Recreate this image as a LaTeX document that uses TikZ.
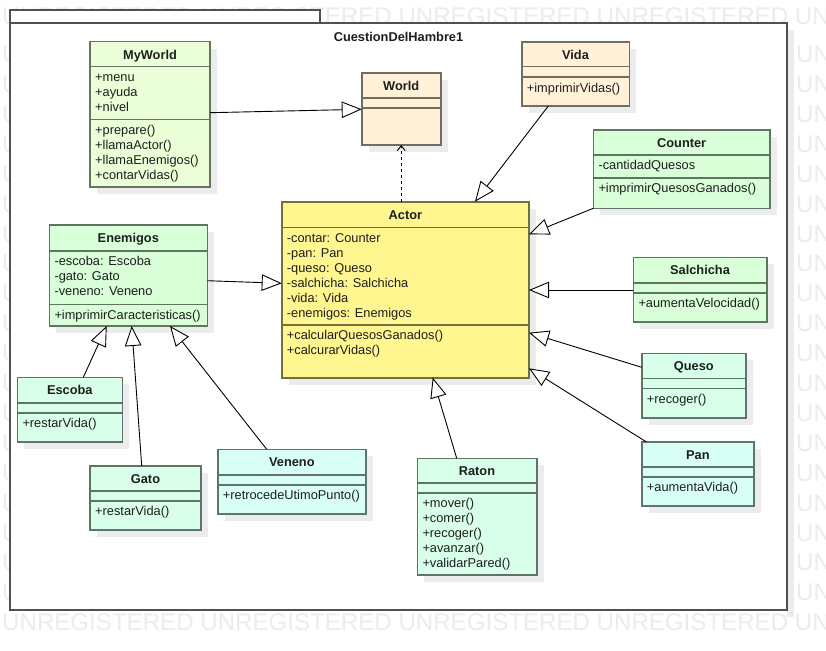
\documentclass[tikz,border=0pt]{standalone}
\usepackage{fontspec}
\setmainfont{Liberation Sans}
\usetikzlibrary{arrows.meta,calc}
\definecolor{cyel}{RGB}{255,246,143}
\definecolor{cbeige}{RGB}{255,242,216}
\definecolor{clime}{RGB}{234,255,216}
\definecolor{cgreen}{RGB}{216,255,216}
\definecolor{cmint}{RGB}{216,255,234}
\definecolor{ccyan}{RGB}{216,255,246}
\definecolor{cshadow}{RGB}{236,236,236}
\definecolor{cwater}{RGB}{236,236,236}
\definecolor{ctext}{RGB}{30,30,30}
\definecolor{cpkg}{RGB}{80,80,80}
\tikzset{
  classbox/.style={line width=1.6pt, inner sep=0pt, outer sep=0pt},
  pkgbox/.style={draw=cpkg, fill=white, line width=1.6pt, inner sep=0pt, outer sep=0pt},
  titlef/.style={font=\fontsize{12.8}{15}\selectfont\bfseries, text=ctext, inner sep=0pt},
  textf/.style={font=\fontsize{12.8}{15}\selectfont, text=ctext, inner sep=0pt},
  wm/.style={font=\fontsize{24.1}{26}\selectfont, text=cwater, inner sep=0pt},
  gen/.style={draw=black, line width=0.9pt, -{Triangle[length=20pt,width=16.5pt,fill=white,line width=0.9pt]}},
  dep/.style={draw=black, line width=0.9pt, dash pattern=on 3pt off 3pt, -{Straight Barb[length=5pt,width=8pt,line width=0.9pt]}}
}
\newcommand\umlbox[8]{%
  \fill[cshadow] ({#2+7},{#3+7}) rectangle ({#4+7},{#7+7});
  \node[classbox, fill=#8, draw=#8!45!black, minimum width={(#4-#2)*1pt}, minimum height={(#7-#3)*1pt}, anchor=north west] (#1) at (#2,#3) {};
  \draw[line width=1.6pt, draw=#8!45!black] (#2,#5) -- (#4,#5) (#2,#6) -- (#4,#6);
}
\newcommand\umltitle[2]{\node[titlef, anchor=base] (#1-title) at ($(#1.north)+(0,17.5)$) {#2};}
\newcommand\umllines[4]{\foreach \t [count=\i] in {#4} {\node[textf, anchor=base west] (#1\i) at ({#2+5},{#3+14.8+15*(\i-1)}) {\t};}}
\begin{document}
\begin{tikzpicture}[x=1pt,y=-1pt]
\useasboundingbox (0,0) rectangle (826,650);
\fill[white] (0,0) rectangle (826,650);
% package shadow
\fill[cshadow] (787,30) rectangle (794,617);
% watermark (only the parts outside the package)
\begin{scope}
\clip (0,0) rectangle (826,650);
\node[wm, anchor=base west] (wmtop) at (2,{16+8.6}) {UNREGISTERED UNREGISTERED UNREGISTERED UNREGISTERED UNREGISTERED};
\node[wm, anchor=base west] (wmbot) at (2,{54+29.9*19+8.6}) {UNREGISTERED UNREGISTERED UNREGISTERED UNREGISTERED UNREGISTERED};
\foreach \k in {0,...,18} {
  \node[wm, anchor=base west] (wmr\k) at (796,{54+29.9*\k+8.6}) {UN};
}
\end{scope}
\begin{scope}
\clip (0,0) rectangle (9,650);
\foreach \k in {0,...,18} {
  \node[wm, anchor=base west] (wml\k) at (2,{54+29.9*\k+8.6}) {U};
}
\end{scope}
% package
\node[pkgbox, minimum width=310pt, minimum height=13pt, anchor=north west] (tab) at (10,10) {};
\node[pkgbox, minimum width=777pt, minimum height=587pt, anchor=north west] (pkg) at (10,23) {};
\node[titlef, anchor=base] (pkgname) at ($(pkg.north)+(0,18.4)$) {CuestionDelHambre1};
% classes
\umlbox{myworld}{90}{41.7}{210}{66.7}{119.3}{186.7}{clime}
\umltitle{myworld}{MyWorld}
\umllines{myworld-a}{90}{66.7}{+menu,+ayuda,+nivel}
\umllines{myworld-m}{90}{119.3}{+prepare(),+llamaActor(),+llamaEnemigos(),+contarVidas()}

\umlbox{world}{361.7}{73.3}{440.7}{98.3}{108.3}{145}{cbeige}
\umltitle{world}{World}

\umlbox{vida}{521.7}{42.3}{629.3}{66.7}{77.3}{106}{cbeige}
\umltitle{vida}{Vida}
\umllines{vida-m}{521.7}{77.3}{+imprimirVidas()}

\umlbox{counter}{593.3}{130}{770}{155}{177.7}{208.3}{cgreen}
\umltitle{counter}{Counter}
\umllines{counter-a}{593.3}{155}{-cantidadQuesos}
\umllines{counter-m}{593.3}{177.7}{+imprimirQuesosGanados()}

\umlbox{enemigos}{49.3}{225}{207.3}{251}{304.3}{326}{cgreen}
\umltitle{enemigos}{Enemigos}
\umllines{enemigos-a}{49.3}{251}{-escoba: Escoba,-gato: Gato,-veneno: Veneno}
\umllines{enemigos-m}{49.3}{304.3}{+imprimirCaracteristicas()}

\umlbox{actor}{281.7}{201.7}{529}{227.3}{325}{377.7}{cyel}
\umltitle{actor}{Actor}
\umllines{actor-a}{281.7}{227.3}{-contar: Counter,-pan: Pan,-queso: Queso,-salchicha: Salchicha,-vida: Vida,-enemigos: Enemigos}
\umllines{actor-m}{281.7}{325}{+calcularQuesosGanados(),+calcurarVidas()}

\umlbox{salchicha}{633.3}{257.3}{766.7}{282.7}{292.7}{321.7}{cgreen}
\umltitle{salchicha}{Salchicha}
\umllines{salchicha-m}{633.3}{292.7}{+aumentaVelocidad()}

\umlbox{queso}{641.7}{353.3}{746}{378.3}{388.3}{417.7}{cmint}
\umltitle{queso}{Queso}
\umllines{queso-m}{641.7}{388.3}{+recoger()}

\umlbox{pan}{641.7}{441.7}{754}{466.7}{476.7}{506}{ccyan}
\umltitle{pan}{Pan}
\umllines{pan-m}{641.7}{476.7}{+aumentaVida()}

\umlbox{escoba}{17.3}{377.3}{122.3}{402.7}{412.7}{441.7}{cmint}
\umltitle{escoba}{Escoba}
\umllines{escoba-m}{17.3}{412.7}{+restarVida()}

\umlbox{gato}{90}{465.7}{201}{490.7}{501}{530}{cmint}
\umltitle{gato}{Gato}
\umllines{gato-m}{90}{501}{+restarVida()}

\umlbox{veneno}{217.7}{449.3}{366}{475}{485}{514}{ccyan}
\umltitle{veneno}{Veneno}
\umllines{veneno-m}{217.7}{485}{+retrocedeUtimoPunto()}

\umlbox{raton}{417.3}{458.3}{536.7}{482.7}{492.7}{575}{cmint}
\umltitle{raton}{Raton}
\umllines{raton-m}{417.3}{492.7}{+mover(),+comer(),+recoger(),+avanzar(),+validarPared()}

% connectors
\draw[gen] ($(myworld.north east)+(0,71)$) -- ($(world.north west)+(0,36)$);
\draw[dep] (world.south |- actor.north) -- (world.south);
\draw[gen] ($(vida.south west)+(26.6,0)$) -- ($(actor.north west)+(193.3,0)$);
\draw[gen] (counter.south west) -- ($(actor.north east)+(0,32.6)$);
\draw[gen] ($(salchicha.north west)+(0,32.7)$) -- ($(actor.north east)+(0,88.3)$);
\draw[gen] ($(queso.north west)+(0,14)$) -- ($(actor.north east)+(0,131)$);
\draw[gen] ($(pan.north west)+(4.3,0)$) -- ($(actor.north east)+(0,166.6)$);
\draw[gen] ($(raton.north west)+(39.4,0)$) -- ($(actor.south west)+(151,0)$);
\draw[gen] ($(enemigos.north east)+(0,55.7)$) -- ($(actor.north west)+(0,81.6)$);
\draw[gen] ($(escoba.north west)+(66,0)$) -- ($(enemigos.south west)+(57.4,0)$);
\draw[gen] ($(gato.north west)+(51.7,0)$) -- ($(enemigos.south west)+(82.4,0)$);
\draw[gen] ($(veneno.north west)+(49,0)$) -- ($(enemigos.south west)+(120.7,0)$);
\end{tikzpicture}
\end{document}
